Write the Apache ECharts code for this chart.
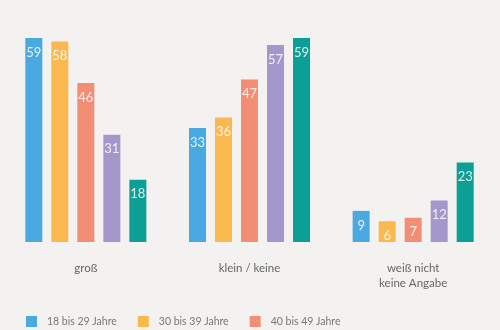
<!DOCTYPE html>
<html><head><meta charset="utf-8">
<script src="https://cdn.jsdelivr.net/npm/echarts@6/dist/echarts.min.js"></script>
<style>html,body{margin:0;padding:0;background:#f3f2f0}#c{width:500px;height:330px}</style>
</head><body><div id="c"></div>
<script>
var categories = ['groß', 'klein / keine', 'weiß nicht\nkeine Angabe'];
var seriesNames = ['18 bis 29 Jahre', '30 bis 39 Jahre', '40 bis 49 Jahre', '50 bis 59 Jahre', '60 Jahre und älter'];
var age18_29 = [59, 33, 9];
var age30_39 = [58, 36, 6];
var age40_49 = [46, 47, 7];
var age50_59 = [31, 57, 12];
var age60plus = [18, 59, 23];
var colors = ['#4aa9e1', '#fbb84e', '#f28e74', '#a497cb', '#0c9f96'];
var values = [age18_29, age30_39, age40_49, age50_59, age60plus];
var font = 'Lato, "Open Sans", sans-serif';
var chart = echarts.init(document.getElementById('c'));
chart.setOption({
  backgroundColor: '#f3f2f0',
  animation: false,
  grid: {left: 4, right: 5, top: 34.5, bottom: 88},
  legend: {
    data: seriesNames.slice(0, 3),
    left: 21, top: 311, itemWidth: 11, itemHeight: 11, itemGap: 21,
    icon: 'rect',
    textStyle: {color: '#777', fontSize: 10.5, fontFamily: font, padding: [0, 0, 0, 5]}
  },
  xAxis: {
    type: 'category', data: categories,
    axisLine: {show: false}, axisTick: {show: false},
    axisLabel: {color: '#666', fontSize: 11.5, fontFamily: font, margin: 19, lineHeight: 15}
  },
  yAxis: {type: 'value', min: 0, max: 60, show: false, splitLine: {show: false}},
  series: values.map(function (v, i) {
    return {
      name: seriesNames[i], type: 'bar', data: v,
      barWidth: 17, barGap: '53%',
      itemStyle: {color: colors[i]},
      label: {show: true, position: 'insideTop', distance: 8, color: 'rgba(255,255,255,0.85)', fontSize: 13, fontFamily: font}
    };
  })
});
</script></body></html>
